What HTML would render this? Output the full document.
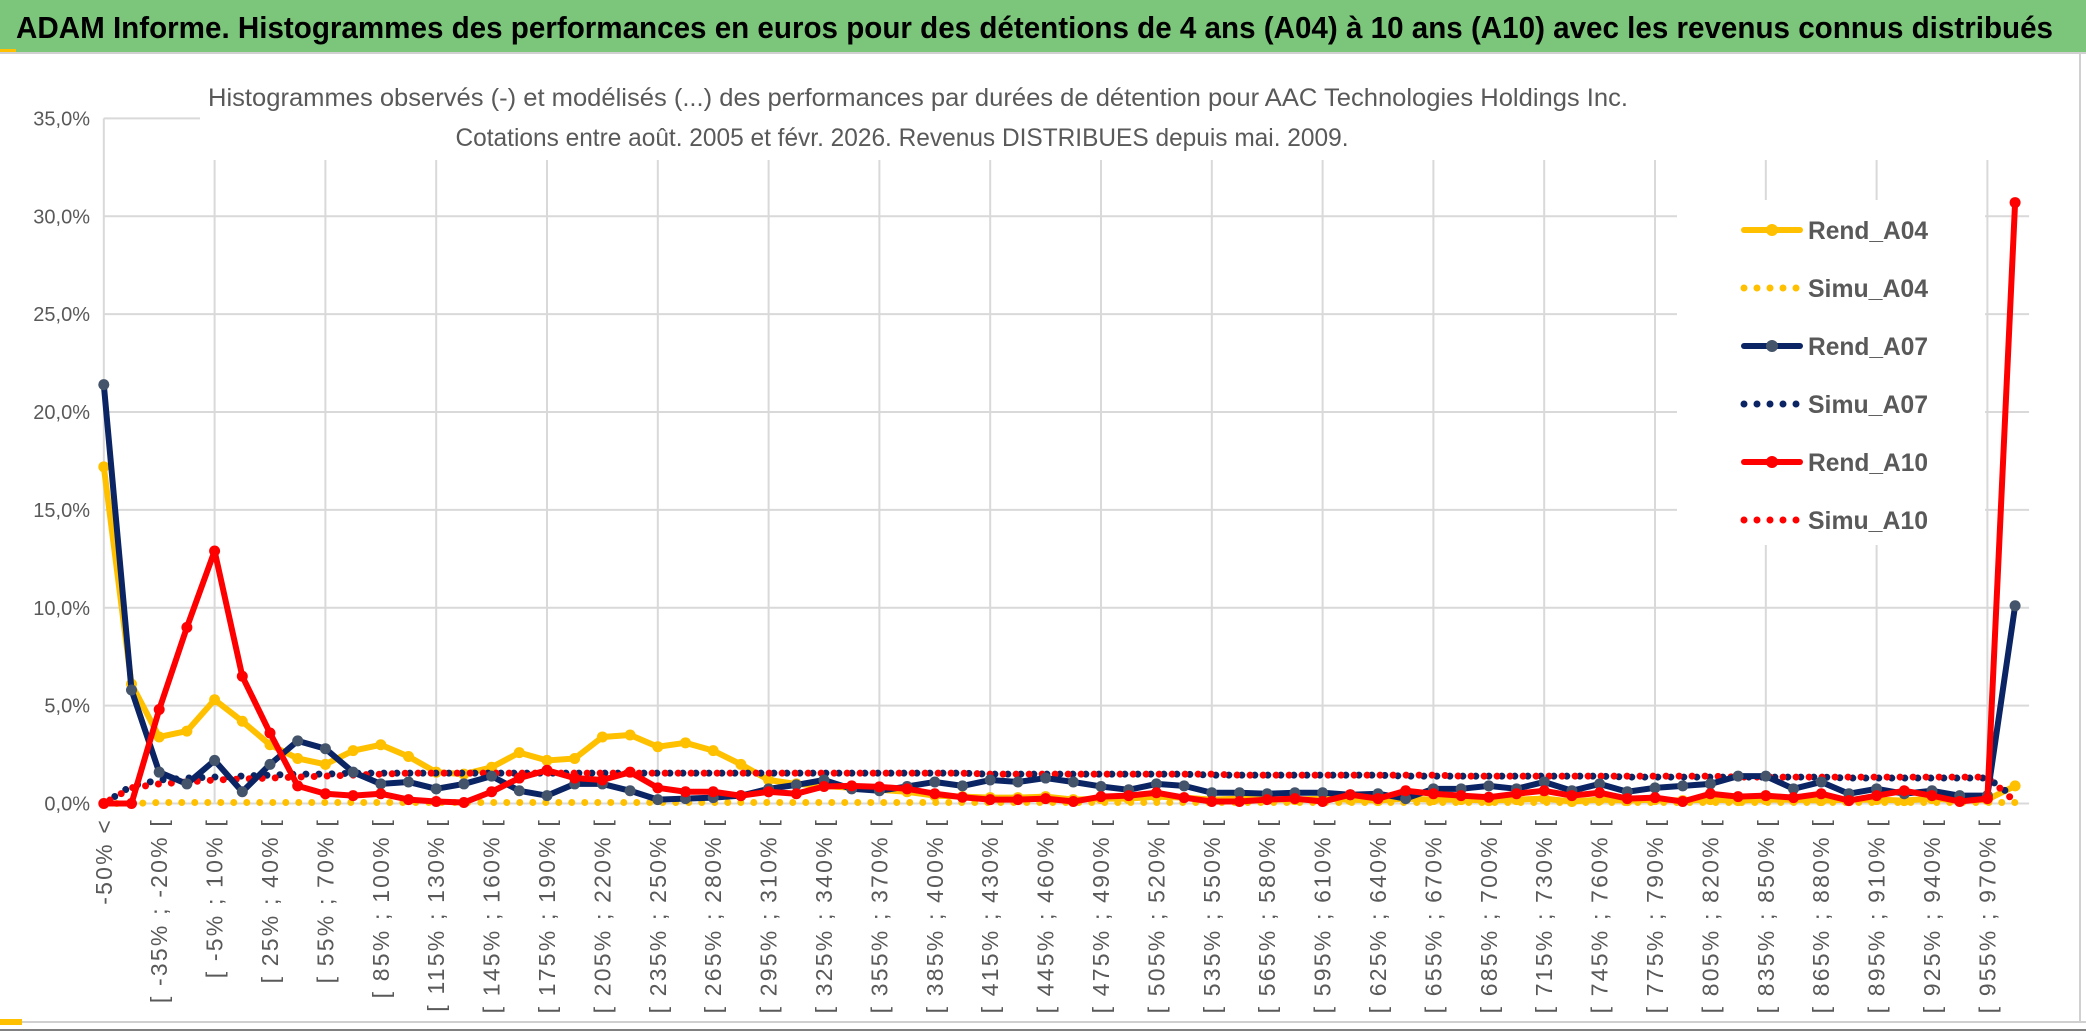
<!DOCTYPE html>
<html><head><meta charset="utf-8"><style>
html,body{margin:0;padding:0;background:#fff;}
svg{display:block;font-family:"Liberation Sans",sans-serif;}
</style></head><body>
<svg id="chart" width="2086" height="1031" viewBox="0 0 2086 1031" xmlns="http://www.w3.org/2000/svg">
<rect x="0" y="0" width="2086" height="1031" fill="#fff"/>
<rect x="0" y="0" width="2086" height="52" fill="#7cc67c"/>
<rect x="0" y="49" width="16" height="4" fill="#ffc000"/>
<line x1="0" y1="53" x2="2086" y2="53" stroke="#d0d0d0" stroke-width="2"/>
<text x="16" y="38" font-size="31" font-weight="bold" fill="#000" textLength="2037" lengthAdjust="spacingAndGlyphs">ADAM Informe. Histogrammes des performances en euros pour des détentions de 4 ans (A04) à 10 ans (A10) avec les revenus connus distribués</text>
<line x1="2080" y1="53" x2="2080" y2="1022" stroke="#d0d0d0" stroke-width="2"/>
<line x1="0" y1="1022" x2="2086" y2="1022" stroke="#d0d0d0" stroke-width="2"/>
<line x1="0" y1="1030" x2="2086" y2="1030" stroke="#808080" stroke-width="2"/>
<rect x="0" y="1019" width="22" height="6" fill="#ffc000"/>
<g id="grid"></g>
<rect x="200" y="56" width="1840" height="104" fill="#fff"/>
<text x="918" y="106" font-size="25" fill="#595959" text-anchor="middle" textLength="1420" lengthAdjust="spacingAndGlyphs">Histogrammes observés (-) et modélisés (...) des performances par durées de détention pour AAC Technologies Holdings Inc.</text>
<text x="902" y="146" font-size="25" fill="#595959" text-anchor="middle" textLength="893" lengthAdjust="spacingAndGlyphs">Cotations entre août. 2005 et févr. 2026. Revenus DISTRIBUES depuis mai. 2009.</text>
<g id="yaxis"></g>
<g id="xaxis"></g>
<g id="series"></g>
<g id="legend"></g>
</svg>
<script>
const yTicks = [0, 5, 10, 15, 20, 25, 30, 35];
const rendA04 = [17.2,6.1,3.4,3.7,5.3,4.2,3.0,2.3,2.0,2.7,3.0,2.4,1.6,1.5,1.85,2.6,2.2,2.3,3.4,3.5,2.9,3.1,2.7,2.0,1.2,1.0,0.9,0.8,0.7,0.6,0.4,0.35,0.3,0.3,0.35,0.2,0.25,0.25,0.35,0.3,0.2,0.25,0.2,0.2,0.25,0.2,0.15,0.25,0.2,0.2,0.15,0.2,0.25,0.1,0.2,0.15,0.2,0.15,0.2,0.15,0.2,0.2,0.15,0.2,0.2,0.15,0.25,0.15,0.2,0.9];
const rendA07 = [21.4,5.8,1.6,1.0,2.2,0.6,2.0,3.2,2.8,1.6,1.0,1.1,0.75,1.0,1.4,0.65,0.4,1.0,1.0,0.65,0.2,0.25,0.3,0.4,0.75,0.95,1.2,0.75,0.65,0.87,1.1,0.9,1.2,1.1,1.3,1.1,0.87,0.7,1.0,0.9,0.55,0.55,0.5,0.55,0.55,0.45,0.5,0.25,0.75,0.75,0.9,0.75,1.1,0.65,1.0,0.6,0.8,0.9,1.0,1.4,1.4,0.75,1.1,0.5,0.75,0.5,0.65,0.4,0.4,10.1];
const rendA10 = [0,0,4.8,9.0,12.9,6.5,3.6,0.9,0.5,0.4,0.5,0.2,0.1,0.05,0.6,1.3,1.7,1.3,1.2,1.6,0.8,0.6,0.6,0.4,0.6,0.5,0.87,0.9,0.85,0.75,0.5,0.32,0.2,0.2,0.25,0.1,0.35,0.4,0.55,0.3,0.1,0.1,0.2,0.25,0.1,0.45,0.25,0.65,0.5,0.4,0.32,0.5,0.65,0.4,0.55,0.25,0.3,0.1,0.5,0.35,0.4,0.3,0.5,0.15,0.4,0.65,0.4,0.1,0.25,30.7];
const simuA04 = [0,0,0.05,0.05,0.05,0.05,0.05,0.05,0.05,0.05,0.05,0.05,0.05,0.05,0.05,0.05,0.05,0.05,0.05,0.05,0.05,0.05,0.05,0.05,0.05,0.05,0.05,0.05,0.05,0.05,0.05,0.05,0.05,0.05,0.05,0.05,0.05,0.05,0.05,0.05,0.05,0.05,0.05,0.05,0.05,0.05,0.05,0.05,0.05,0.05,0.05,0.05,0.05,0.05,0.05,0.05,0.05,0.05,0.05,0.05,0.05,0.05,0.05,0.05,0.05,0.05,0.05,0.05,0.05,0.05];
const simuA07 = [0,0.9,1.2,1.3,1.35,1.4,1.45,1.5,1.5,1.55,1.55,1.55,1.55,1.55,1.55,1.55,1.55,1.55,1.55,1.55,1.55,1.55,1.55,1.55,1.55,1.55,1.55,1.55,1.55,1.55,1.55,1.55,1.5,1.5,1.5,1.5,1.5,1.5,1.5,1.5,1.45,1.45,1.45,1.45,1.45,1.45,1.45,1.4,1.4,1.4,1.4,1.4,1.4,1.4,1.4,1.35,1.35,1.35,1.35,1.35,1.35,1.35,1.35,1.3,1.3,1.3,1.3,1.3,1.3,0.3];
const simuA10 = [0,0.8,1.0,1.1,1.2,1.25,1.3,1.35,1.4,1.45,1.5,1.55,1.55,1.55,1.55,1.55,1.55,1.55,1.55,1.55,1.55,1.55,1.55,1.55,1.55,1.55,1.55,1.55,1.55,1.55,1.55,1.55,1.5,1.5,1.5,1.5,1.5,1.5,1.5,1.5,1.5,1.45,1.45,1.45,1.45,1.45,1.45,1.45,1.45,1.4,1.4,1.4,1.4,1.4,1.4,1.4,1.4,1.4,1.4,1.35,1.35,1.35,1.35,1.35,1.35,1.35,1.35,1.35,1.35,0.1];
const seriesNames = ["Rend_A04","Simu_A04","Rend_A07","Simu_A07","Rend_A10","Simu_A10"];

const NS = "http://www.w3.org/2000/svg";
const X0 = 103.8, DX = 27.7, Y0 = 803.5, YTOP = 118.4, YMAX = 35;
const xPos = i => X0 + i * DX;
const yPos = v => Y0 - (v / YMAX) * (Y0 - YTOP);
function mk(tag, attrs, parent) { const e = document.createElementNS(NS, tag); for (const k in attrs) e.setAttribute(k, attrs[k]); parent.appendChild(e); return e; }
function catLabel(i) {
  if (i === 0) return "-50% <";
  const a = -50 + 15 * (i - 1), b = a + 15;
  return "[ " + a + "% ; " + b + "% [";
}
const n = rendA04.length;
const grid = document.getElementById("grid");
const yaxis = document.getElementById("yaxis");
const xaxis = document.getElementById("xaxis");
const xRight = xPos(n - 1) + 14;
yTicks.forEach(t => {
  const l = mk("line", {x1: X0, x2: xRight, y1: yPos(t), y2: yPos(t), stroke: "#d9d9d9", "stroke-width": 2}, grid);
  
  
  const tx = mk("text", {x: 90, y: yPos(t) + 7, "font-size": 20, fill: "#595959", "text-anchor": "end"}, yaxis);
  tx.textContent = t.toFixed(1).replace(".", ",") + "%";
  
  
});
for (let i = 0; i < n; i += 4) {
  const l = mk("line", {x1: xPos(i), x2: xPos(i), y1: YTOP, y2: Y0, stroke: "#d9d9d9", "stroke-width": 2}, grid);
  
  
}
for (let i = 0; i < n; i += 2) {
  const cx = xPos(i) + 8, cy = 818;
  const tx = mk("text", {x: cx, y: cy, "font-size": 23, "letter-spacing": 2.2, fill: "#595959", "text-anchor": "end", transform: "rotate(-90 " + cx + " " + cy + ")"}, xaxis);
  tx.textContent = catLabel(i);
  
  
}
const series = document.getElementById("series");
function dotted(data, color, name, offset) {
  const pts = data.map((v, i) => xPos(i) + "," + yPos(v)).join(" ");
  const p = mk("polyline", {points: pts, fill: "none", stroke: color, "stroke-width": 7, "stroke-linecap": "round", "stroke-dasharray": "0 13", "stroke-dashoffset": offset}, series);
  
  
}
function solid(data, color, mcolor, name) {
  const pts = data.map((v, i) => xPos(i) + "," + yPos(v)).join(" ");
  const p = mk("polyline", {points: pts, fill: "none", stroke: color, "stroke-width": 6, "stroke-linejoin": "round"}, series);
  
  
  data.forEach((v, i) => {
    const c = mk("circle", {cx: xPos(i), cy: yPos(v), r: 5.5, fill: mcolor}, series);
    
    
  });
}
dotted(simuA04, "#ffc000", "simu-a04-line", 0);
solid(rendA04, "#ffc000", "#ffc000", "rend-a04-line");
dotted(simuA07, "#0b2463", "simu-a07-line", 0);
dotted(simuA10, "#ff0000", "simu-a10-line", 6);
solid(rendA07, "#0b2463", "#44546a", "rend-a07-line");
solid(rendA10, "#ff0000", "#ff0000", "rend-a10-line");

const legend = document.getElementById("legend");
const lb = mk("rect", {x: 1677, y: 200, width: 308, height: 345, fill: "#fff"}, legend);


const colors = ["#ffc000","#ffc000","#0b2463","#0b2463","#ff0000","#ff0000"];
const mcolors = ["#ffc000","#ffc000","#44546a","#0b2463","#ff0000","#ff0000"];
seriesNames.forEach((nm, k) => {
  const y = 230 + k * 58;
  const g = mk("g", {}, legend);
  
  
  if (nm.startsWith("Rend")) {
    mk("line", {x1: 1744, x2: 1800, y1: y, y2: y, stroke: colors[k], "stroke-width": 6, "stroke-linecap": "round"}, g);
    mk("circle", {cx: 1772, cy: y, r: 6, fill: mcolors[k]}, g);
  } else {
    mk("line", {x1: 1744, x2: 1800, y1: y, y2: y, stroke: colors[k], "stroke-width": 7, "stroke-linecap": "round", "stroke-dasharray": "0 13"}, g);
  }
  const t = mk("text", {x: 1808, y: y + 9, "font-size": 25, "font-weight": "bold", fill: "#595959", textLength: 120, lengthAdjust: "spacingAndGlyphs"}, g);
  t.textContent = nm;
});
</script>
</body></html>
